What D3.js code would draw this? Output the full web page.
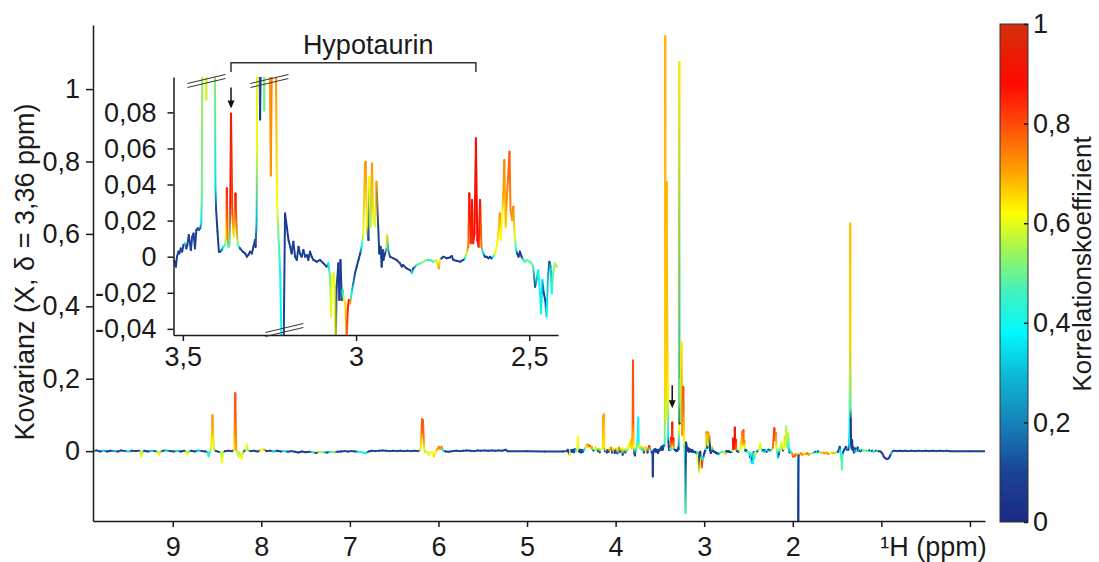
<!DOCTYPE html>
<html>
<head>
<meta charset="utf-8">
<script src="https://cdn.jsdelivr.net/npm/d3@7"></script>
<style>
  body { margin: 0; background: #fff; }
  svg { display: block; font-family: "Liberation Sans", Arial, sans-serif; }
</style>
</head>
<body>
<svg id="chart" width="1099" height="562"></svg>
<script>
// each point: [ppm, covariance, correlation]
const aromaticRegion = [
  [9.90, 0.000, 0.30], [9.86, 0.002, 0.12], [9.82, -0.001, 0.08], [9.78, 0.001, 0.35],
  [9.74, -0.001, 0.10], [9.70, 0.001, 0.08], [9.66, 0.000, 0.30], [9.62, -0.001, 0.10],
  [9.58, 0.002, 0.08], [9.54, 0.000, 0.12], [9.50, -0.001, 0.40], [9.46, 0.001, 0.10],
  [9.42, 0.000, 0.08], [9.38, 0.001, 0.10], [9.365, -0.002, 0.55], [9.355, -0.016, 0.62],
  [9.345, -0.003, 0.58], [9.32, 0.001, 0.10], [9.28, -0.001, 0.08], [9.24, 0.001, 0.35],
  [9.20, 0.000, 0.10], [9.165, -0.002, 0.55], [9.155, -0.011, 0.62], [9.145, -0.003, 0.58],
  [9.11, 0.001, 0.10], [9.07, 0.002, 0.35], [9.03, 0.000, 0.08], [8.99, -0.001, 0.10],
  [8.95, 0.001, 0.40], [8.91, -0.001, 0.08], [8.87, 0.001, 0.10], [8.845, -0.003, 0.58],
  [8.835, -0.010, 0.62], [8.825, -0.002, 0.55], [8.79, 0.001, 0.10], [8.75, -0.001, 0.08],
  [8.71, 0.002, 0.35], [8.67, 0.000, 0.10], [8.63, -0.001, 0.08], [8.605, -0.003, 0.42],
  [8.595, -0.014, 0.45], [8.585, -0.002, 0.40], [8.57, 0.002, 0.58], [8.562, 0.025, 0.64],
  [8.555, 0.070, 0.70], [8.551, 0.099, 0.72], [8.547, 0.070, 0.70], [8.54, 0.025, 0.64],
  [8.532, 0.003, 0.55], [8.51, 0.000, 0.10], [8.48, -0.002, 0.08], [8.455, -0.004, 0.55],
  [8.445, -0.031, 0.62], [8.435, -0.004, 0.58], [8.41, 0.000, 0.10], [8.37, 0.001, 0.08],
  [8.33, 0.000, 0.10], [8.305, 0.004, 0.65], [8.298, 0.100, 0.78], [8.294, 0.160, 0.80],
  [8.290, 0.100, 0.78], [8.283, 0.004, 0.70], [8.27, -0.003, 0.55], [8.258, -0.016, 0.60],
  [8.248, -0.004, 0.55], [8.232, -0.008, 0.58], [8.220, -0.022, 0.62], [8.210, -0.006, 0.58],
  [8.19, 0.001, 0.10], [8.170, 0.004, 0.58], [8.162, 0.018, 0.62], [8.154, 0.002, 0.55],
  [8.12, 0.000, 0.10], [8.08, 0.001, 0.08], [8.04, -0.001, 0.10], [8.00, 0.004, 0.62],
  [7.97, 0.005, 0.66], [7.94, 0.000, 0.10], [7.90, 0.001, 0.08], [7.86, -0.001, 0.35],
  [7.82, 0.001, 0.10], [7.78, -0.001, 0.08], [7.74, 0.000, 0.40], [7.70, -0.002, 0.10],
  [7.66, 0.000, 0.08], [7.62, -0.002, 0.10], [7.58, -0.004, 0.06], [7.54, -0.001, 0.10],
  [7.50, -0.003, 0.08], [7.46, -0.002, 0.10], [7.42, -0.003, 0.45], [7.38, -0.005, 0.08],
  [7.34, -0.002, 0.60], [7.30, -0.003, 0.50], [7.26, -0.004, 0.10], [7.22, -0.002, 0.45],
  [7.18, -0.003, 0.55], [7.14, -0.002, 0.10], [7.10, -0.001, 0.08], [7.06, 0.000, 0.10],
  [7.02, -0.001, 0.08], [6.98, 0.000, 0.10], [6.94, -0.001, 0.08], [6.90, -0.002, 0.40],
  [6.86, -0.003, 0.45], [6.82, -0.006, 0.42], [6.79, -0.001, 0.10], [6.75, 0.001, 0.08],
  [6.71, 0.000, 0.10], [6.67, 0.001, 0.08], [6.63, 0.002, 0.10], [6.59, 0.001, 0.08],
  [6.55, 0.000, 0.10], [6.51, 0.001, 0.08], [6.47, 0.000, 0.10], [6.43, 0.001, 0.08],
  [6.39, 0.000, 0.10], [6.35, 0.001, 0.08], [6.31, 0.000, 0.10], [6.27, 0.001, 0.08],
  [6.23, 0.000, 0.10], [6.20, 0.004, 0.62], [6.190, 0.060, 0.76], [6.185, 0.088, 0.79],
  [6.180, 0.050, 0.77], [6.175, 0.085, 0.79], [6.168, 0.040, 0.76], [6.160, 0.006, 0.60],
  [6.150, -0.002, 0.55], [6.120, -0.004, 0.60], [6.110, -0.012, 0.62], [6.100, -0.004, 0.60],
  [6.060, -0.004, 0.62], [6.050, -0.014, 0.66], [6.040, -0.004, 0.62], [6.010, 0.006, 0.72],
  [5.995, 0.012, 0.75], [5.980, 0.006, 0.72], [5.965, 0.012, 0.74], [5.950, 0.002, 0.40],
  [5.92, -0.001, 0.08], [5.88, -0.002, 0.10], [5.84, 0.000, 0.08], [5.80, 0.001, 0.10],
  [5.76, 0.000, 0.08], [5.72, 0.001, 0.10], [5.68, 0.002, 0.08], [5.64, 0.001, 0.10],
  [5.60, 0.000, 0.08], [5.56, 0.002, 0.10], [5.52, 0.001, 0.08], [5.48, 0.002, 0.10],
  [5.44, 0.001, 0.08], [5.40, 0.002, 0.10], [5.36, 0.001, 0.08], [5.32, 0.002, 0.10],
  [5.28, 0.001, 0.08], [5.24, 0.004, 0.10], [5.22, 0.000, 0.10], [5.00, 0.000, 0.08],
  [4.80, -0.001, 0.08], [4.60, -0.001, 0.10]
];

const aliphaticRegion = [
  [4.55, 0.000, 0.10], [4.54, 0.004, 0.10], [4.53, -0.003, 0.10], [4.52, -0.012, 0.60],
  [4.51, -0.002, 0.55], [4.50, 0.003, 0.10], [4.49, -0.002, 0.08], [4.48, 0.004, 0.10],
  [4.47, -0.003, 0.10], [4.46, 0.005, 0.10], [4.45, 0.000, 0.35], [4.43, 0.008, 0.60],
  [4.425, 0.040, 0.62], [4.418, 0.008, 0.60], [4.41, -0.002, 0.10], [4.40, 0.004, 0.10],
  [4.39, -0.004, 0.10], [4.38, 0.003, 0.08], [4.37, -0.002, 0.10], [4.35, 0.006, 0.45],
  [4.33, 0.014, 0.65], [4.32, 0.018, 0.72], [4.31, 0.012, 0.66], [4.30, 0.016, 0.74],
  [4.29, 0.014, 0.80], [4.28, 0.008, 0.66], [4.27, 0.012, 0.70], [4.26, 0.004, 0.40],
  [4.25, 0.002, 0.10], [4.24, 0.006, 0.60], [4.23, 0.010, 0.65], [4.22, 0.004, 0.55],
  [4.21, 0.008, 0.62], [4.20, 0.000, 0.10], [4.19, 0.006, 0.50], [4.18, -0.003, 0.10],
  [4.17, 0.004, 0.58], [4.145, 0.010, 0.64], [4.140, 0.098, 0.70], [4.136, 0.040, 0.68],
  [4.132, 0.102, 0.70], [4.128, 0.010, 0.64], [4.12, 0.000, 0.10], [4.11, 0.004, 0.60],
  [4.10, -0.004, 0.10], [4.09, 0.003, 0.10], [4.08, -0.002, 0.10], [4.07, 0.008, 0.62],
  [4.06, 0.006, 0.66], [4.05, 0.010, 0.74], [4.04, -0.004, 0.10], [4.03, 0.006, 0.60],
  [4.02, 0.004, 0.68], [4.01, -0.005, 0.10], [4.00, 0.002, 0.10], [3.99, 0.008, 0.60],
  [3.98, -0.006, 0.10], [3.97, 0.004, 0.62], [3.96, 0.010, 0.72], [3.95, -0.002, 0.10],
  [3.94, 0.006, 0.65], [3.93, 0.008, 0.62], [3.92, -0.010, 0.10], [3.91, 0.003, 0.55],
  [3.90, 0.006, 0.60], [3.89, -0.004, 0.10], [3.88, 0.004, 0.58], [3.87, 0.002, 0.45],
  [3.86, 0.010, 0.62], [3.85, 0.020, 0.62], [3.84, 0.012, 0.64], [3.825, 0.030, 0.68],
  [3.815, 0.008, 0.66], [3.808, 0.080, 0.76], [3.804, 0.250, 0.80], [3.800, 0.080, 0.78],
  [3.795, 0.010, 0.62], [3.790, -0.006, 0.10], [3.782, -0.012, 0.08], [3.772, 0.004, 0.35],
  [3.765, 0.010, 0.55], [3.755, 0.020, 0.42], [3.748, 0.060, 0.40], [3.744, 0.093, 0.40],
  [3.740, 0.030, 0.40], [3.734, 0.010, 0.55], [3.726, 0.016, 0.62], [3.718, 0.006, 0.50],
  [3.710, 0.012, 0.65], [3.700, 0.004, 0.40], [3.690, 0.010, 0.55], [3.680, -0.004, 0.10],
  [3.670, 0.006, 0.60], [3.660, 0.010, 0.68], [3.650, 0.006, 0.55], [3.640, -0.004, 0.10],
  [3.630, 0.008, 0.72], [3.620, 0.014, 0.85], [3.612, 0.008, 0.75], [3.602, 0.002, 0.40],
  [3.592, -0.004, 0.10], [3.584, -0.002, 0.10], [3.580, -0.070, 0.08], [3.576, -0.004, 0.10],
  [3.568, 0.004, 0.10], [3.560, 0.000, 0.08], [3.552, 0.006, 0.10], [3.544, -0.002, 0.08],
  [3.536, 0.004, 0.10]
];

// region shown enlarged in the inset
const hypotaurinRegion = [
  [3.527, -0.0018, 0.08], [3.523, -0.0028, 0.08], [3.520, -0.0055, 0.08], [3.517, 0.0000, 0.08],
  [3.513, 0.0028, 0.10], [3.510, 0.0018, 0.08], [3.506, 0.0046, 0.10], [3.502, 0.0028, 0.10],
  [3.498, 0.0065, 0.10], [3.494, 0.0074, 0.35], [3.490, 0.0046, 0.10], [3.487, 0.0065, 0.10],
  [3.483, 0.0120, 0.10], [3.480, 0.0083, 0.10], [3.477, 0.0037, 0.10], [3.473, 0.0111, 0.10],
  [3.469, 0.0129, 0.10], [3.465, 0.0046, 0.10], [3.461, 0.0148, 0.10], [3.457, 0.0157, 0.10],
  [3.454, 0.0148, 0.15], [3.450, 0.0157, 0.15], [3.447, 0.0185, 0.35], [3.445, 0.0350, 0.50],
  [3.443, 0.2000, 0.66], [3.441, 0.8000, 0.68], [3.440, 1.1460, 0.69], [3.438, 0.6000, 0.68],
  [3.434, 0.1500, 0.64], [3.432, 0.0870, 0.58], [3.431, 0.2000, 0.66], [3.424, 0.7430, 0.69],
  [3.416, 0.3000, 0.67], [3.408, 0.1500, 0.63], [3.406, 0.0400, 0.35], [3.404, 0.0260, 0.10],
  [3.400, 0.0139, 0.08], [3.396, 0.0028, 0.08], [3.392, 0.0028, 0.10], [3.388, 0.0037, 0.20],
  [3.383, 0.0055, 0.38], [3.378, 0.0065, 0.50], [3.375, 0.0129, 0.62], [3.373, 0.0379, 0.85],
  [3.371, 0.0100, 0.75], [3.368, 0.0055, 0.40], [3.365, 0.0065, 0.50], [3.363, 0.0300, 0.90],
  [3.361, 0.0794, 0.92], [3.357, 0.0240, 0.80], [3.354, 0.0129, 0.65], [3.352, 0.0110, 0.60],
  [3.348, 0.0350, 0.88], [3.345, 0.0166, 0.75], [3.342, 0.0074, 0.55], [3.338, 0.0055, 0.38],
  [3.335, 0.0046, 0.10], [3.327, 0.0028, 0.08], [3.320, 0.0018, 0.08], [3.315, 0.0000, 0.08],
  [3.311, 0.0009, 0.08], [3.306, 0.0028, 0.08], [3.301, 0.0018, 0.08], [3.296, 0.0055, 0.08],
  [3.292, 0.0092, 0.10], [3.290, 0.0055, 0.08], [3.287, 0.0203, 0.30], [3.286, 0.0600, 0.60],
  [3.284, 0.6600, 0.65], [3.282, 0.9000, 0.65], [3.281, 1.0750, 0.64], [3.279, 0.1200, 0.30],
  [3.277, 0.0760, 0.06], [3.275, 0.1100, 0.08], [3.272, 0.1400, 0.40], [3.268, 0.2000, 0.50],
  [3.265, 0.0810, 0.50], [3.261, 0.2500, 0.60], [3.255, 0.3000, 0.64], [3.250, 0.1200, 0.70],
  [3.246, 0.0450, 0.72], [3.242, 0.1300, 0.75], [3.236, 0.1770, 0.80], [3.232, 0.1200, 0.76],
  [3.228, 0.0300, 0.62], [3.224, 0.0120, 0.50], [3.219, -0.0090, 0.38], [3.214, -0.0600, 0.40],
  [3.211, -0.1710, 0.48], [3.208, -0.0300, 0.10], [3.205, 0.0240, 0.08], [3.200, 0.0166, 0.08],
  [3.195, 0.0092, 0.08], [3.190, 0.0055, 0.08], [3.186, 0.0018, 0.08], [3.181, 0.0083, 0.08],
  [3.176, 0.0000, 0.08], [3.171, -0.0018, 0.08], [3.166, 0.0055, 0.08], [3.162, 0.0018, 0.08],
  [3.157, 0.0000, 0.08], [3.152, 0.0037, 0.08], [3.147, 0.0000, 0.08], [3.142, 0.0009, 0.08],
  [3.138, -0.0018, 0.08], [3.133, 0.0028, 0.08], [3.128, 0.0000, 0.08], [3.123, -0.0018, 0.08],
  [3.113, -0.0028, 0.08], [3.104, -0.0018, 0.08], [3.094, -0.0037, 0.08], [3.085, -0.0055, 0.10],
  [3.080, -0.0037, 0.35], [3.075, -0.0111, 0.50], [3.072, -0.0332, 0.60], [3.069, -0.0111, 0.62],
  [3.065, -0.0092, 0.60], [3.063, -0.0129, 0.60], [3.059, -0.0580, 0.62], [3.056, -0.0166, 0.10],
  [3.051, -0.0037, 0.08], [3.048, -0.0240, 0.08], [3.045, -0.0018, 0.08], [3.041, -0.0240, 0.10],
  [3.039, -0.0185, 0.35], [3.035, -0.0240, 0.60], [3.031, -0.0259, 0.65], [3.027, -0.0450, 0.75],
  [3.024, -0.0295, 0.85], [3.021, -0.0240, 0.88], [3.017, -0.0259, 0.72], [3.013, -0.0203, 0.38],
  [3.008, -0.0148, 0.20], [3.003, -0.0092, 0.10], [2.998, -0.0055, 0.08], [2.993, -0.0018, 0.08],
  [2.988, 0.0018, 0.10], [2.984, 0.0055, 0.38], [2.979, 0.0129, 0.60], [2.974, 0.0517, 0.72],
  [2.972, 0.0526, 0.73], [2.969, 0.0166, 0.62], [2.964, 0.0092, 0.10], [2.962, 0.0443, 0.62],
  [2.958, 0.0166, 0.55], [2.954, 0.0517, 0.72], [2.950, 0.0203, 0.60], [2.945, 0.0166, 0.60],
  [2.941, 0.0416, 0.70], [2.936, 0.0166, 0.10], [2.933, 0.0018, 0.08], [2.929, 0.0055, 0.08],
  [2.926, -0.0055, 0.08], [2.923, 0.0037, 0.08], [2.921, -0.0018, 0.08], [2.916, 0.0018, 0.08],
  [2.912, 0.0055, 0.55], [2.910, 0.0120, 0.65], [2.907, 0.0037, 0.30], [2.902, 0.0000, 0.08],
  [2.892, -0.0009, 0.08], [2.883, -0.0018, 0.08], [2.873, -0.0037, 0.08], [2.868, -0.0055, 0.08],
  [2.864, -0.0046, 0.08], [2.854, -0.0065, 0.08], [2.844, -0.0074, 0.08], [2.839, -0.0092, 0.38],
  [2.835, -0.0065, 0.10], [2.825, -0.0046, 0.45], [2.815, -0.0037, 0.50], [2.806, -0.0028, 0.55],
  [2.796, -0.0018, 0.48], [2.787, -0.0018, 0.40], [2.777, -0.0028, 0.50], [2.767, -0.0018, 0.60],
  [2.761, -0.0065, 0.70], [2.758, -0.0018, 0.60], [2.753, -0.0009, 0.10], [2.748, 0.0000, 0.08],
  [2.738, -0.0009, 0.08], [2.729, -0.0004, 0.08], [2.724, 0.0004, 0.08], [2.719, -0.0018, 0.08],
  [2.710, -0.0022, 0.08], [2.700, -0.0028, 0.08], [2.690, -0.0018, 0.10], [2.686, -0.0009, 0.38],
  [2.681, 0.0018, 0.60], [2.676, 0.0055, 0.75], [2.673, 0.0351, 0.88], [2.669, 0.0074, 0.85],
  [2.665, 0.0314, 0.90], [2.662, 0.0074, 0.85], [2.658, 0.0129, 0.88], [2.654, 0.0656, 0.92],
  [2.650, 0.0092, 0.88], [2.646, 0.0055, 0.85], [2.642, 0.0314, 0.88], [2.638, 0.0055, 0.75],
  [2.635, 0.0028, 0.38], [2.628, 0.0000, 0.08], [2.623, 0.0000, 0.08], [2.618, -0.0009, 0.08],
  [2.613, 0.0000, 0.08], [2.609, -0.0009, 0.08], [2.604, 0.0000, 0.38], [2.599, 0.0018, 0.60],
  [2.594, 0.0055, 0.62], [2.589, 0.0129, 0.65], [2.585, 0.0240, 0.72], [2.582, 0.0092, 0.62],
  [2.578, 0.0222, 0.62], [2.575, 0.0351, 0.70], [2.572, 0.0536, 0.74], [2.568, 0.0166, 0.66],
  [2.565, 0.0314, 0.72], [2.561, 0.0443, 0.76], [2.557, 0.0582, 0.78], [2.554, 0.0259, 0.74],
  [2.550, 0.0203, 0.70], [2.546, 0.0277, 0.74], [2.542, 0.0111, 0.60], [2.538, 0.0037, 0.38],
  [2.535, 0.0018, 0.10], [2.531, 0.0000, 0.08], [2.527, 0.0028, 0.08], [2.522, 0.0000, 0.10],
  [2.517, -0.0018, 0.40], [2.513, -0.0028, 0.45], [2.508, -0.0018, 0.50], [2.498, -0.0028, 0.48],
  [2.493, -0.0037, 0.50], [2.489, -0.0055, 0.45], [2.483, -0.0166, 0.10], [2.479, -0.0129, 0.30],
  [2.474, -0.0074, 0.40], [2.469, -0.0203, 0.38], [2.466, -0.0314, 0.38], [2.462, -0.0129, 0.35],
  [2.458, -0.0203, 0.10], [2.454, -0.0240, 0.10], [2.450, -0.0332, 0.38], [2.446, -0.0111, 0.30],
  [2.442, -0.0028, 0.08], [2.438, -0.0055, 0.30], [2.435, -0.0203, 0.40], [2.431, -0.0092, 0.50],
  [2.426, -0.0037, 0.55], [2.421, -0.0055, 0.52], [2.416, -0.0046, 0.60]
];

const upfieldRegion = [
  [2.410, -0.004, 0.55], [2.400, 0.000, 0.10], [2.390, 0.003, 0.45], [2.380, 0.006, 0.60],
  [2.370, 0.012, 0.64], [2.363, 0.021, 0.62], [2.356, 0.006, 0.58], [2.345, 0.000, 0.40],
  [2.335, 0.003, 0.10], [2.325, -0.002, 0.38], [2.315, 0.002, 0.10], [2.305, 0.001, 0.40],
  [2.295, -0.002, 0.10], [2.285, 0.002, 0.35], [2.275, 0.004, 0.10], [2.265, 0.000, 0.45],
  [2.255, 0.003, 0.10], [2.245, 0.002, 0.40], [2.235, 0.004, 0.55], [2.225, 0.010, 0.75],
  [2.215, 0.040, 0.80], [2.208, 0.063, 0.82], [2.200, 0.030, 0.78], [2.192, 0.050, 0.76],
  [2.185, 0.010, 0.60], [2.175, -0.004, 0.38], [2.165, -0.018, 0.35], [2.157, -0.008, 0.10],
  [2.148, 0.004, 0.50], [2.138, 0.010, 0.58], [2.128, 0.025, 0.62], [2.120, 0.008, 0.55],
  [2.110, 0.002, 0.10], [2.100, 0.006, 0.62], [2.090, 0.040, 0.66], [2.082, 0.014, 0.58],
  [2.074, 0.069, 0.56], [2.068, 0.030, 0.58], [2.060, 0.010, 0.50], [2.052, 0.050, 0.58],
  [2.045, 0.008, 0.40], [2.035, -0.004, 0.10], [2.025, 0.000, 0.38], [2.015, -0.004, 0.45],
  [2.005, -0.008, 0.72], [1.995, -0.016, 0.78], [1.985, -0.010, 0.74], [1.975, -0.014, 0.80],
  [1.962, -0.008, 0.72], [1.950, -0.010, 0.70], [1.942, -0.012, 0.40], [1.938, -0.195, 0.06],
  [1.934, -0.012, 0.10], [1.925, -0.008, 0.70], [1.910, -0.006, 0.74], [1.895, -0.010, 0.72],
  [1.880, -0.008, 0.70], [1.865, -0.006, 0.62], [1.850, -0.008, 0.72], [1.835, -0.006, 0.76],
  [1.820, -0.010, 0.72], [1.805, -0.008, 0.68], [1.790, -0.006, 0.60], [1.775, -0.005, 0.45],
  [1.760, -0.004, 0.38], [1.745, -0.002, 0.10], [1.730, -0.003, 0.35], [1.715, -0.001, 0.10],
  [1.700, -0.003, 0.40], [1.685, -0.004, 0.55], [1.670, -0.006, 0.65], [1.655, -0.004, 0.70],
  [1.640, -0.006, 0.72], [1.625, -0.004, 0.68], [1.610, -0.006, 0.75], [1.595, -0.008, 0.72],
  [1.580, -0.006, 0.62], [1.565, -0.004, 0.58], [1.550, -0.006, 0.65], [1.535, -0.005, 0.72],
  [1.520, -0.004, 0.60], [1.505, -0.003, 0.45], [1.490, -0.002, 0.10], [1.480, 0.004, 0.10],
  [1.470, 0.012, 0.08], [1.462, -0.002, 0.40], [1.452, -0.020, 0.48], [1.446, -0.051, 0.50],
  [1.440, -0.010, 0.45], [1.430, -0.002, 0.10], [1.415, 0.006, 0.10], [1.400, 0.012, 0.08],
  [1.390, 0.004, 0.10], [1.380, 0.006, 0.40], [1.372, 0.004, 0.10], [1.364, 0.020, 0.35],
  [1.358, 0.090, 0.42], [1.355, 0.200, 0.55], [1.353, 0.380, 0.65], [1.351, 0.629, 0.68],
  [1.349, 0.300, 0.66], [1.347, 0.120, 0.50], [1.345, 0.086, 0.05], [1.342, 0.020, 0.08],
  [1.336, 0.008, 0.10], [1.330, 0.030, 0.06], [1.325, 0.004, 0.10], [1.318, 0.010, 0.08],
  [1.310, -0.004, 0.10], [1.300, 0.008, 0.10], [1.292, -0.002, 0.35], [1.284, 0.006, 0.10],
  [1.276, 0.002, 0.45], [1.268, 0.010, 0.10], [1.260, 0.002, 0.08], [1.250, 0.004, 0.40],
  [1.240, 0.000, 0.10], [1.230, 0.004, 0.50], [1.220, 0.002, 0.10], [1.210, 0.003, 0.45],
  [1.195, 0.000, 0.55], [1.180, 0.002, 0.50], [1.165, 0.001, 0.40], [1.150, 0.000, 0.55],
  [1.135, 0.002, 0.10], [1.120, 0.000, 0.45], [1.105, 0.001, 0.10], [1.090, -0.002, 0.38],
  [1.075, 0.000, 0.45], [1.060, 0.001, 0.10], [1.045, 0.000, 0.50], [1.030, 0.000, 0.10],
  [1.010, -0.001, 0.10], [0.990, -0.006, 0.10], [0.975, -0.014, 0.10], [0.960, -0.019, 0.08],
  [0.945, -0.021, 0.10], [0.930, -0.022, 0.08], [0.915, -0.019, 0.10], [0.900, -0.012, 0.08],
  [0.885, -0.004, 0.35], [0.870, 0.000, 0.10], [0.850, 0.001, 0.08], [0.820, 0.000, 0.10],
  [0.790, 0.001, 0.08], [0.760, 0.000, 0.10], [0.730, 0.001, 0.08], [0.700, 0.000, 0.10],
  [0.660, 0.001, 0.08], [0.620, 0.000, 0.10], [0.580, 0.001, 0.08], [0.540, 0.000, 0.10],
  [0.500, 0.001, 0.08], [0.460, 0.000, 0.10], [0.420, 0.001, 0.08], [0.380, 0.000, 0.10],
  [0.340, 0.001, 0.08], [0.300, 0.000, 0.10], [0.260, 0.001, 0.08], [0.230, 0.000, 0.08],
  [0.000, 0.000, 0.08], [-0.170, 0.000, 0.08]
];

// colour map (jet-like) used for correlation
const colorStops = [0, 0.1, 0.2, 0.3, 0.38, 0.46, 0.54, 0.62, 0.7, 0.8, 0.88, 1];
const colorValues = ["#1b2a84", "#1b4296", "#1583b9", "#0cbcd6", "#00f8ff", "#3ff2c0",
                     "#9af55c", "#ffff00", "#ffa500", "#ff4a0a", "#ff0a00", "#d2300c"];

const mainXTicks = [9, 8, 7, 6, 5, 4, 3, 2, 1, 0];
const mainXLabels = ["9", "8", "7", "6", "5", "4", "3", "2", "", ""];
const mainYTicks = [0, 0.2, 0.4, 0.6, 0.8, 1];
const mainYLabels = ["0", "0,2", "0,4", "0,6", "0,8", "1"];
const insetXTicks = [3.5, 3, 2.5];
const insetXLabels = ["3,5", "3", "2,5"];
const insetYTicks = [-0.04, -0.02, 0, 0.02, 0.04, 0.06, 0.08];
const insetYLabels = ["-0,04", "-0,02", "0", "0,02", "0,04", "0,06", "0,08"];
const barTicks = [0, 0.2, 0.4, 0.6, 0.8, 1];
const barLabels = ["0", "0,2", "0,4", "0,6", "0,8", "1"];

const arrowPpm = 3.361;
const bracketPpm = [3.361, 2.654];
const breakMarks = [[3.432, "top"], [3.250, "top"], [3.207, "bottom"]];

const svg = d3.select("#chart");
const defs = svg.append("defs");
const FONT = 27;

const color = d3.scaleLinear().domain(colorStops).range(colorValues).clamp(true);

const x = d3.scaleLinear().domain([9.9, -0.17]).range([93, 985]);
const y = d3.scaleLinear().domain([-0.193, 1.177]).range([521, 25]);
const xi = d3.scaleLinear().domain([3.527, 2.417]).range([173.5, 558]);
const yi = d3.scaleLinear().domain([-0.0434, 0.0996]).range([335, 77]);

const spectrum = [...aromaticRegion, ...aliphaticRegion, ...hypotaurinRegion, ...upfieldRegion];

function clip(id, xs, ys) {
  defs.append("clipPath").attr("id", id).append("rect")
    .attr("x", xs.range()[0]).attr("y", ys.range()[1])
    .attr("width", xs.range()[1] - xs.range()[0])
    .attr("height", ys.range()[0] - ys.range()[1]);
}
clip("clip-main", x, y);
clip("clip-inset", xi, yi);

// each segment gets its own gradient so the colour follows the correlation
function drawTrace(points, xs, ys, width, prefix, clipId) {
  const g = svg.append("g").attr("clip-path", `url(#${clipId})`);
  for (let i = 1; i < points.length; i++) {
    const a = points[i - 1], b = points[i];
    const id = `${prefix}${i}`;
    const grad = defs.append("linearGradient").attr("id", id)
      .attr("gradientUnits", "userSpaceOnUse")
      .attr("x1", xs(a[0])).attr("y1", ys(a[1]))
      .attr("x2", xs(b[0])).attr("y2", ys(b[1]) + 0.01);
    grad.append("stop").attr("offset", 0).attr("stop-color", color(a[2]));
    grad.append("stop").attr("offset", 1).attr("stop-color", color(b[2]));
    g.append("line")
      .attr("x1", xs(a[0])).attr("y1", ys(a[1]))
      .attr("x2", xs(b[0])).attr("y2", ys(b[1]))
      .attr("stroke", `url(#${id})`)
      .attr("stroke-width", width)
      .attr("stroke-linecap", "round");
  }
}

function styleAxis(g) {
  g.selectAll(".domain, .tick line").attr("stroke", "#1a1a1a").attr("stroke-width", 1.5);
  g.selectAll(".tick text").attr("fill", "#1a1a1a").attr("font-size", FONT)
    .attr("font-family", "Liberation Sans, Arial, sans-serif");
}

// main plot
drawTrace(spectrum, x, y, 2, "m", "clip-main");

svg.append("g").attr("transform", "translate(0,521)")
  .call(d3.axisBottom(x).tickValues(mainXTicks).tickSize(6).tickSizeOuter(0).tickPadding(10)
    .tickFormat((d, i) => mainXLabels[i]))
  .call(styleAxis);
svg.append("g").attr("transform", "translate(93,0)")
  .call(d3.axisLeft(y).tickValues(mainYTicks).tickSize(7).tickSizeOuter(0).tickPadding(6)
    .tickFormat((d, i) => mainYLabels[i]))
  .call(styleAxis);

svg.append("text").attr("x", x(1) - 1).attr("y", 556).attr("font-size", FONT)
  .attr("fill", "#1a1a1a").text("¹H (ppm)");
svg.append("text").attr("transform", "translate(34,272) rotate(-90)")
  .attr("text-anchor", "middle").attr("font-size", FONT).attr("fill", "#1a1a1a")
  .text("Kovarianz (X, δ = 3,36 ppm)");

function arrow(px, tipY, len) {
  svg.append("line").attr("x1", px).attr("x2", px).attr("y1", tipY - len).attr("y2", tipY - 6)
    .attr("stroke", "#111").attr("stroke-width", 1.5);
  svg.append("path").attr("d", `M${px - 3.5},${tipY - 8} L${px + 3.5},${tipY - 8} L${px},${tipY} Z`)
    .attr("fill", "#111");
}
arrow(x(arrowPpm), y(0.08) - 14, 23);

// inset
drawTrace(hypotaurinRegion, xi, yi, 2, "i", "clip-inset");

svg.append("g").attr("transform", "translate(0,335)")
  .call(d3.axisBottom(xi).tickValues(insetXTicks).tickSize(6).tickSizeOuter(0).tickPadding(6)
    .tickFormat((d, i) => insetXLabels[i]))
  .call(styleAxis);
svg.append("g").attr("transform", "translate(173.5,0)")
  .call(d3.axisLeft(yi).tickValues(insetYTicks).tickSize(6).tickSizeOuter(0).tickPadding(11)
    .tickFormat((d, i) => insetYLabels[i]))
  .call(styleAxis);

breakMarks.forEach(([ppm, edge]) => {
  const cx = xi(ppm), cy = edge === "top" ? yi.range()[1] + 4 : yi.range()[0] - 5;
  [-2, 2].forEach(off => {
    svg.append("line")
      .attr("x1", cx - 19).attr("y1", cy + 4.5 + off)
      .attr("x2", cx + 19).attr("y2", cy - 4.5 + off)
      .attr("stroke", "#333").attr("stroke-width", 1);
  });
});

arrow(xi(arrowPpm), yi(0.0794) - 5, 21);

const by = 62.7;
svg.append("path")
  .attr("d", `M${xi(bracketPpm[0])},72 V${by} H${xi(bracketPpm[1])} V72`)
  .attr("fill", "none").attr("stroke", "#333").attr("stroke-width", 1.5);
svg.append("text").attr("x", xi(2.965)).attr("y", 54).attr("text-anchor", "middle")
  .attr("font-size", FONT).attr("fill", "#1a1a1a").text("Hypotaurin");

// colour bar
const cb = d3.scaleLinear().domain([0, 1]).range([522, 24]);
const grad = defs.append("linearGradient").attr("id", "cbar")
  .attr("x1", 0).attr("y1", 1).attr("x2", 0).attr("y2", 0);
colorStops.forEach((s, i) => grad.append("stop").attr("offset", s).attr("stop-color", colorValues[i]));
svg.append("rect").attr("x", 1000).attr("y", 24).attr("width", 28).attr("height", 498)
  .attr("fill", "url(#cbar)").attr("stroke", "#333").attr("stroke-width", 1);
svg.append("g").attr("transform", "translate(1028,0)")
  .call(d3.axisRight(cb).tickValues(barTicks).tickSize(-4).tickSizeOuter(0).tickPadding(5)
    .tickFormat((d, i) => barLabels[i]))
  .call(g => g.select(".domain").remove())
  .call(styleAxis);
svg.append("text").attr("transform", "translate(1091,264) rotate(-90)")
  .attr("text-anchor", "middle").attr("font-size", 26).attr("fill", "#1a1a1a")
  .text("Korrelationskoeffizient");
</script>
</body>
</html>
